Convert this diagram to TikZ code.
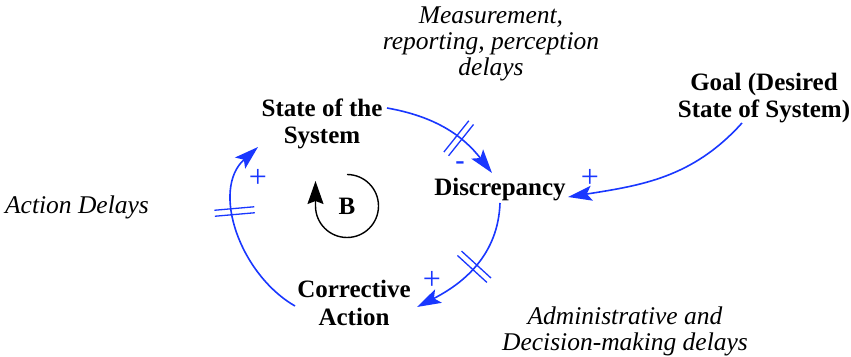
\documentclass[tikz,border=0pt]{standalone}
\usepackage{fontspec}
\setmainfont{Liberation Serif}
\usetikzlibrary{arrows.meta,calc,decorations.markings}
\definecolor{cldblue}{RGB}{25,55,255}
\begin{document}
\begin{tikzpicture}[x=1pt,y=1pt,
  var/.style={font=\fontsize{25}{27.5}\selectfont\bfseries, align=center, inner sep=0pt},
  delaytxt/.style={font=\fontsize{25.5}{26}\selectfont\itshape, align=center, inner sep=0pt},
  sgn/.style={font=\fontsize{32}{32}\selectfont, text=cldblue, inner sep=0pt},
  link/.style={draw=cldblue, line width=1.6pt, -{Stealth[length=24pt,width=15pt,inset=5pt]}},
  hatch/.style={postaction={decorate}, decoration={markings, mark=at position #1 with {\draw[cldblue,line width=1.3pt,-] (-3pt,-20pt)--(-3pt,20pt) (3pt,-20pt)--(3pt,20pt);}}}
]
\useasboundingbox (0,0) rectangle (851,356);

\node[delaytxt] (meas) at (491,312) {Measurement,\\reporting, perception\\delays};
\node[var] (state) at (322,232) {State of the\\System};
\node[var] (disc) at (500,166) {Discrepancy};
\node[var] (goal) at (764,258) {Goal (Desired\\State of System)};
\node[delaytxt] (actdel) at (77,149) {Action Delays};
\node[var] (corr) at (354,53) {Corrective\\Action};
\node[delaytxt] (admin) at (625,25) {Administrative and\\Decision-making delays};
\node[font=\fontsize{25}{25}\selectfont\bfseries, inner sep=0pt] (B) at (347,150) {B};

% B loop
\draw[line width=1.4pt, -{Stealth[length=23pt,width=16pt,inset=3pt]}]
  ($(B)+(0,31.5)$) arc[start angle=90, end angle=-180, radius=31.5] -- ++(0,25);

% links
\draw[link, hatch=0.62] ($(state)+(65,16)$) to[out=-10, in=128] ($(disc)+(-8,17)$);
\draw[link, hatch=0.5] ($(disc)+(0,-13)$) to[out=-92, in=27] ($(corr)+(63,-4)$);
\draw[link] ($(goal)+(-22,-25)$) to[out=-132, in=9] ($(disc)+(68,-7)$);
\draw[link, hatch=0.62] ($(corr)+(-59,-3)$) to[out=150, in=222] ($(state)+(-64,-23)$);

% polarities
\node[sgn, font=\fontsize{28}{28}\selectfont\bfseries] (s1) at (460,190) {-};
\node[sgn] (s2) at (432,76) {+};
\node[sgn] (s3) at (590,178) {+};
\node[sgn] (s4) at (258,178) {+};
\end{tikzpicture}
\end{document}
